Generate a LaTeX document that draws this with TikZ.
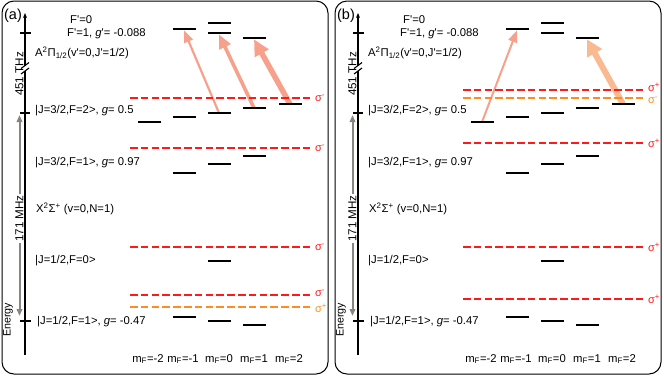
\documentclass[tikz,border=0pt]{standalone}
\usepackage{fontspec}
\setmainfont{Liberation Sans}
\usepackage{tikz}
\usetikzlibrary{arrows.meta, backgrounds}

\definecolor{sigred}{RGB}{255,25,25}
\definecolor{sigorange}{RGB}{255,140,30}
\definecolor{salmon}{RGB}{247,160,140}
\definecolor{peach}{RGB}{249,186,145}
\definecolor{spangrey}{RGB}{138,132,128}
\newcommand{\prm}{\textquotesingle}

\begin{document}
\begin{tikzpicture}[
    x=1pt, y=-1pt,
    font=\fontsize{11.3}{13}\selectfont,
    panel/.style={draw, line width=1pt, rounded corners=12pt},
    axis/.style={line width=1.1pt},
    lvl/.style={fill=black, minimum width=23pt, minimum height=2.2pt, inner sep=0pt},
    lab/.style={anchor=west, inner sep=0pt},
    side/.style={rotate=90, inner sep=1pt, font=\fontsize{11.6}{13}\selectfont},
    span/.style={draw=spangrey, line width=2pt, -{Triangle[length=7pt,width=5.5pt]}},
    sigline/.style={line width=2pt, dash pattern=on 7.5pt off 3.3pt},
    siglab/.style={anchor=west, inner sep=0pt, xshift=2pt, font=\fontsize{11}{13}\selectfont},
    pump/.style={draw=salmon}
]
\useasboundingbox (0,0) rectangle (664,376);

\foreach \p/\dx in {a/0, b/333}{
\begin{scope}[shift={(\dx,0)}]
\draw[panel] (2,1) rectangle (328,374);
\node[font=\fontsize{14.5}{16}\selectfont, inner sep=0pt] (\p-tag) at (13,15.5) {(\p)};
% energy axis with break
\coordinate (\p-base) at (25,355);
\coordinate (\p-top) at (25,13);
\draw[axis] (\p-base) -- (25,71);
\draw[axis, -{Stealth[length=5pt,width=4pt]}] (25,65.5) -- (\p-top);
\draw[axis] (21,68.5) -- (29,62.5) (21,74) -- (29,68);
\draw[axis] (20,33) -- (31,33) (20,113) -- (30,113) (20,321) -- (31,321);
\node[side] (\p-thz) at (19.5,74) {451 THz};
\node[side] (\p-mhz) at (19.5,218.5) {171 MHz};
\coordinate (\p-hi) at (19.5,115);
\coordinate (\p-lo) at (19.5,316);
\draw[span] (\p-mhz.east) -- (\p-hi);
\draw[span] (\p-mhz.west) -- (\p-lo);
\node[side, font=\fontsize{10.7}{12}\selectfont] (\p-energy) at (8,320) {Energy};
% state labels
\node[lab] (\p-fp0) at (70,20) {F\prm=0};
\node[lab] (\p-fp1) at (67,34) {F\prm=1, \textit{g}\prm= -0.088};
\node[lab] (\p-astate) at (35,53) {A\textsuperscript{2}Π\textsubscript{1/2}(v\prm=0,J\prm=1/2)};
\node[lab] (\p-j32f2) at (35,111) {|J=3/2,F=2>, \textit{g}= 0.5};
\node[lab] (\p-j32f1) at (35,163) {|J=3/2,F=1>, \textit{g}= 0.97};
\node[lab] (\p-xstate) at (36,209) {X\textsuperscript{2}Σ\textsuperscript{+} (v=0,N=1)};
\node[lab] (\p-j12f0) at (35,261) {|J=1/2,F=0>};
\node[lab] (\p-j12f1) at (37,322) {|J=1/2,F=1>, \textit{g}= -0.47};
% Zeeman sublevels
\node[lvl] (\p-e0m0) at (219,23) {};
\foreach \m/\x/\y in {mm1/184/29, m0/219/33, mp1/254/38}
  \node[lvl] (\p-e1\m) at (\x,\y) {};
\foreach \m/\x/\y in {mm2/149/122, mm1/184/117, m0/219/113, mp1/254/108, mp2/290/104}
  \node[lvl] (\p-g2\m) at (\x,\y) {};
\foreach \m/\x/\y in {mm1/184/173, m0/219/164, mp1/254/156}
  \node[lvl] (\p-g1\m) at (\x,\y) {};
\node[lvl] (\p-h0m0) at (219,261) {};
\foreach \m/\x/\y in {mm1/184/317, m0/219/321, mp1/254/325}
  \node[lvl] (\p-h1\m) at (\x,\y) {};
\foreach \m/\x in {-2/148, -1/183, 0/219, 1/254, 2/289}
  \node (\p-mf\m) at (\x,359) {m\textsubscript{F}=\m};
\end{scope}
}

\begin{pgfonlayer}{background}
% (a) pumping
\draw[pump, line width=2.2pt, -{Triangle[length=12pt,width=9pt]}] (a-g2m0.center) -- (a-e1mm1.south);
\draw[pump, line width=3.6pt, -{Triangle[length=14pt,width=12pt]}] (a-g2mp1.center) -- (a-e1m0.south);
\draw[pump, line width=5.5pt, -{Triangle[length=16pt,width=15pt]}] (a-g2mp2.center) -- (a-e1mp1.south);
\foreach \y/\c/\s/\o [count=\i] in {98/sigred/-/0, 148/sigred/-/0, 247/sigred/-/0, 295/sigred/-/-1.5, 307/sigorange/+/1.5}
  \draw[sigline, draw=\c] (130,\y) -- (312,\y) node[siglab, text=\c, yshift=-\o pt] (a-sig\i) {σ\textsuperscript{\s}};
% (b) pumping
\draw[pump, line width=2pt, -{Triangle[length=12pt,width=9pt]}] (b-g2mm2.center) -- (b-e1mm1.south);
\draw[pump, draw=peach, line width=6pt, -{Triangle[length=16pt,width=16pt]}] (b-g2mp2.center) -- (b-e1mp1.south);
\foreach \y/\c/\s/\o [count=\i] in {90/sigred/+/-2.5, 98/sigorange/-/2.5, 143/sigred/+/0, 247/sigred/+/0, 299/sigred/+/0}
  \draw[sigline, draw=\c] (463,\y) -- (645,\y) node[siglab, text=\c, yshift=-\o pt] (b-sig\i) {σ\textsuperscript{\s}};
\end{pgfonlayer}
\end{tikzpicture}
\end{document}
